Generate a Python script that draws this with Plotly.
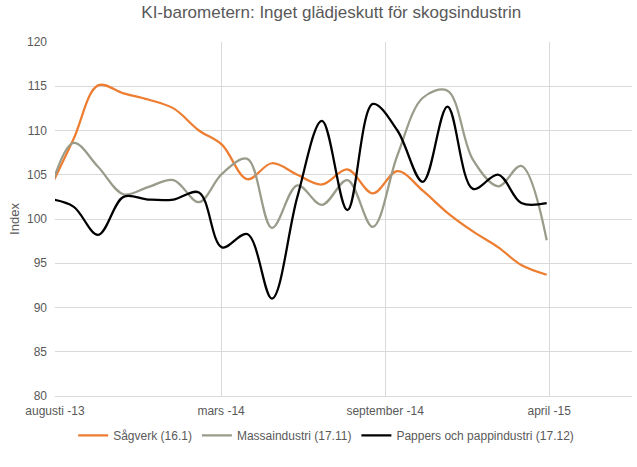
import plotly.graph_objects as go

# monthly KI-barometer readings, aug 2013 - apr 2015
months = ["2013-08-01", "2013-09-01", "2013-10-01", "2013-11-01", "2013-12-01",
          "2014-01-01", "2014-02-01", "2014-03-01", "2014-04-01", "2014-05-01",
          "2014-06-01", "2014-07-01", "2014-08-01", "2014-09-01", "2014-10-01",
          "2014-11-01", "2014-12-01", "2015-01-01", "2015-02-01", "2015-03-01",
          "2015-04-01"]

sagverk = [103.0, 109.0, 115.1, 114.2, 113.5, 112.5, 110.0, 108.4, 104.5, 106.3,
           105.0, 103.9, 105.6, 102.9, 105.4, 103.2, 100.7, 98.6, 96.8, 94.8, 93.7]
massa = [102.5, 108.6, 105.9, 102.8, 103.6, 104.4, 101.9, 105.1, 106.8, 99.0,
         103.8, 101.6, 104.4, 99.1, 107.2, 113.7, 114.5, 106.7, 103.7, 106.0, 97.6]
papper = [102.3, 101.4, 98.2, 102.5, 102.2, 102.2, 103.0, 96.8, 98.3, 91.0,
          102.5, 111.1, 101.0, 113.0, 110.0, 104.2, 112.7, 103.4, 105.0, 101.8, 101.8]

series_names = ["Sågverk (16.1)", "Massaindustri (17.11)", "Pappers och pappindustri (17.12)"]
colors = ["#ED7D31", "#9B9B8C", "#000000"]

tick_dates = ["2013-08-09 12:00", "2014-02-28", "2014-09-16", "2015-04-04"]
tick_text = ["augusti -13", "mars -14", "september -14", "april -15"]

font = "Liberation Sans, Arial, sans-serif"
txt = "#595959"
grid = "#D9D9D9"

fig = go.Figure()
for name, vals, c in zip(series_names, [sagverk, massa, papper], colors):
    fig.add_trace(go.Scatter(x=months, y=vals, name=name, mode="lines",
                             line=dict(color=c, width=2.25, shape="spline", smoothing=1)))

fig.update_layout(
    width=637, height=467,
    margin=dict(l=55, r=5, t=42, b=71),
    plot_bgcolor="white", paper_bgcolor="white",
    font=dict(family=font, size=12, color=txt),
    title=dict(text="KI-barometern: Inget glädjeskutt för skogsindustrin",
               x=0.52, xanchor="center", y=0.974, yanchor="middle",
               font=dict(size=17, color=txt)),
    legend=dict(orientation="h", x=0.47, xanchor="center", y=-0.111, yanchor="middle",
                font=dict(size=12, color=txt), itemwidth=30),
    showlegend=True,
)
fig.update_xaxes(type="date", range=["2013-08-09 12:00", "2015-07-14"],
                 tickvals=tick_dates, ticktext=tick_text, automargin=False,
                 ticklabelstandoff=4,
                 showgrid=True, gridcolor=grid, gridwidth=1,
                 showline=True, linecolor=grid, zeroline=False, ticks="")
fig.update_yaxes(range=[80, 120], dtick=5, tick0=80, automargin=False,
                 ticklabelstandoff=7,
                 showgrid=True, gridcolor=grid, gridwidth=1,
                 showline=False, zeroline=False, ticks="",
                 title=dict(text="Index", standoff=4, font=dict(size=13, color=txt)))

# page has a default 8px body margin; drop it so the chart sits at the window corner
fig.write_html("out.html", config={"displayModeBar": False},
               post_script="document.body.style.margin='0';")
